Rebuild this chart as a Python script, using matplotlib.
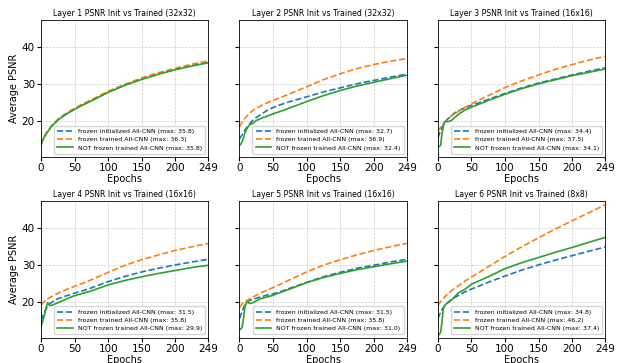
import matplotlib
matplotlib.use("Agg")
import matplotlib.pyplot as plt

epochs = [0, 2, 4, 6, 8, 10, 12, 15, 20, 25, 30, 40, 50, 60, 75, 100, 125, 150, 175, 200, 225, 249]

titles = [
    "Layer 1 PSNR Init vs Trained (32x32)",
    "Layer 2 PSNR Init vs Trained (32x32)",
    "Layer 3 PSNR Init vs Trained (16x16)",
    "Layer 4 PSNR Init vs Trained (16x16)",
    "Layer 5 PSNR Init vs Trained (16x16)",
    "Layer 6 PSNR Init vs Trained (8x8)",
]

frozen_init = [
    [13.7, 14.8, 15.6, 16.2, 16.8, 17.3, 17.8, 18.6, 19.5, 20.4, 21.1, 22.3, 23.3, 24.3, 25.6, 27.9, 29.8, 31.4, 32.8, 34.0, 35.0, 35.8],
    [15.2, 15.8, 16.4, 17.0, 17.6, 18.1, 18.6, 19.3, 20.3, 21.0, 21.6, 22.8, 23.7, 24.4, 25.3, 26.6, 27.9, 29.0, 30.1, 31.0, 31.9, 32.7],
    [15.5, 16.5, 17.5, 18.3, 19.0, 19.6, 20.1, 20.7, 21.5, 22.2, 22.8, 23.6, 24.3, 24.9, 25.9, 27.5, 29.0, 30.3, 31.4, 32.5, 33.5, 34.4],
    [15.0, 15.9, 16.8, 17.6, 18.3, 18.8, 19.3, 19.8, 20.4, 20.9, 21.2, 21.8, 22.4, 22.9, 23.8, 25.5, 26.9, 28.1, 29.1, 30.0, 30.8, 31.5],
    [15.5, 16.5, 17.5, 18.4, 19.2, 19.8, 20.1, 20.4, 20.7, 21.0, 21.3, 21.8, 22.2, 22.7, 23.7, 25.3, 26.8, 28.0, 29.1, 29.9, 30.8, 31.5],
    [15.5, 16.4, 17.2, 17.9, 18.5, 19.0, 19.4, 19.9, 20.6, 21.2, 21.7, 22.7, 23.5, 24.2, 25.3, 27.0, 28.6, 30.0, 31.3, 32.5, 33.7, 34.8],
]

frozen_trained = [
    [13.7, 14.8, 15.6, 16.2, 16.8, 17.3, 17.8, 18.6, 19.6, 20.5, 21.2, 22.5, 23.5, 24.5, 25.8, 28.1, 30.0, 31.7, 33.1, 34.3, 35.4, 36.3],
    [18.5, 19.2, 19.8, 20.3, 20.8, 21.2, 21.6, 22.2, 22.9, 23.5, 24.0, 24.9, 25.6, 26.3, 27.4, 29.3, 31.2, 32.8, 34.2, 35.3, 36.2, 36.9],
    [17.2, 17.8, 18.4, 18.9, 19.3, 19.7, 20.1, 20.6, 21.4, 22.0, 22.6, 23.7, 24.7, 25.6, 26.9, 29.1, 30.9, 32.5, 34.0, 35.3, 36.5, 37.5],
    [19.2, 19.6, 20.0, 20.3, 20.6, 20.9, 21.1, 21.4, 21.9, 22.3, 22.8, 23.5, 24.2, 24.9, 26.0, 28.0, 29.9, 31.4, 32.7, 33.9, 34.9, 35.8],
    [18.5, 19.0, 19.5, 19.9, 20.1, 20.3, 20.5, 20.8, 21.3, 21.8, 22.3, 23.1, 23.9, 24.7, 26.0, 28.1, 29.9, 31.4, 32.7, 33.9, 34.9, 35.8],
    [19.0, 19.6, 20.1, 20.5, 20.9, 21.3, 21.7, 22.2, 23.0, 23.7, 24.3, 25.6, 26.7, 27.8, 29.5, 32.3, 34.9, 37.3, 39.7, 41.9, 44.1, 46.2],
]

not_frozen = [
    [13.6, 14.7, 15.5, 16.1, 16.7, 17.2, 17.7, 18.5, 19.4, 20.3, 21.0, 22.2, 23.2, 24.2, 25.5, 27.8, 29.7, 31.3, 32.7, 33.9, 34.9, 35.8],
    [13.5, 13.8, 14.5, 15.5, 16.8, 17.6, 18.3, 19.0, 19.5, 20.2, 20.6, 21.3, 22.0, 22.6, 23.6, 25.3, 26.9, 28.3, 29.5, 30.5, 31.5, 32.4],
    [13.0, 13.2, 13.5, 16.5, 18.5, 19.8, 20.0, 19.9, 20.2, 21.0, 21.8, 23.0, 23.8, 24.5, 25.6, 27.3, 28.8, 30.1, 31.2, 32.3, 33.2, 34.1],
    [13.5, 14.5, 15.8, 17.2, 18.8, 19.8, 19.2, 19.0, 19.4, 19.8, 20.2, 21.0, 21.7, 22.2, 23.0, 24.6, 25.8, 26.8, 27.7, 28.5, 29.3, 29.9],
    [12.5, 12.7, 13.2, 15.5, 18.5, 19.8, 19.9, 19.6, 19.8, 20.3, 20.8, 21.3, 21.8, 22.5, 23.5, 25.2, 26.6, 27.7, 28.7, 29.5, 30.3, 31.0],
    [10.8, 11.3, 11.8, 14.5, 18.2, 19.0, 19.4, 19.8, 20.5, 21.4, 22.4, 23.4, 24.8, 25.6, 26.8, 29.0, 30.6, 32.0, 33.4, 34.7, 36.1, 37.4],
]

xticks = [0, 50, 100, 150, 200, 249]
yticks = [20, 30, 40]

fig, axes = plt.subplots(2, 3, figsize=(6.22, 3.63), dpi=100, sharey=True)
fig.subplots_adjust(left=0.066, right=0.973, top=0.945, bottom=0.07, wspace=0.186, hspace=0.32)

for i, ax in enumerate(axes.flat):
    fi, ft, nf = frozen_init[i], frozen_trained[i], not_frozen[i]
    ax.plot(epochs, fi, linestyle="--", color="#1f77b4", lw=1.2,
            label=f"frozen initialized All-CNN (max: {max(fi):.1f})")
    ax.plot(epochs, ft, linestyle="--", color="#ff7f0e", lw=1.2,
            label=f"frozen trained All-CNN (max: {max(ft):.1f})")
    ax.plot(epochs, nf, linestyle="-", color="#2ca02c", lw=1.2,
            label=f"NOT frozen trained All-CNN (max: {max(nf):.1f})")
    ax.set_title(titles[i], fontsize=5.6, pad=3)
    ax.set_xlim(0, 249)
    ax.set_ylim(10.4, 47.3)
    ax.set_xticks(xticks)
    ax.set_yticks(yticks)
    ax.tick_params(labelsize=7.5, length=3, pad=1.5)
    ax.grid(True, linestyle="--", color="#cccccc", lw=0.5)
    ax.set_xlabel("Epochs", fontsize=7, labelpad=0.5)
    if i % 3 == 0:
        ax.set_ylabel("Average PSNR", fontsize=7, labelpad=2)
    ax.legend(loc="lower right", fontsize=4.5, handlelength=2.5, borderpad=0.5, labelspacing=0.45)
    for s in ax.spines.values():
        s.set_linewidth(0.6)

fig.savefig("out.png", dpi=100)
